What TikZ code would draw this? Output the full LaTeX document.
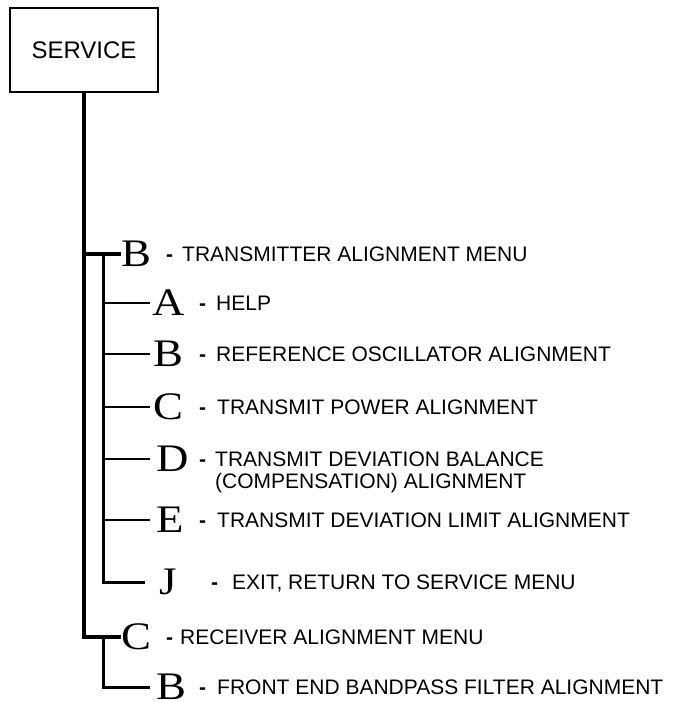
\documentclass[tikz,border=0pt]{standalone}
\usepackage{fontspec}
\setmainfont{Liberation Sans}
\newfontfamily\letterfam{Liberation Serif}
\usepackage{graphicx}
\newcommand{\wideletter}[1]{\scalebox{1.15}[1]{#1}}
\begin{document}
\begin{tikzpicture}[x=1pt,y=-1pt,
  box/.style={draw,line width=2.5pt,minimum width=148pt,minimum height=84pt,inner sep=0pt,font=\fontsize{24}{26}\selectfont},
  trunk/.style={line width=4pt},
  subtrunk/.style={line width=3pt},
  twig/.style={line width=2.6pt},
  letter/.style={inner sep=0pt,anchor=west,font=\letterfam\fontsize{39}{41}\selectfont,text height=25.8pt,text depth=0pt},
  dashlbl/.style={inner sep=0pt,anchor=west,font=\bfseries\fontsize{21}{22}\selectfont,text height=15pt,text depth=0pt},
  lbl/.style={inner sep=0pt,anchor=west,font=\fontsize{21}{22}\selectfont,text height=15pt,text depth=0pt}]
\useasboundingbox (0,0) rectangle (674,702);

\node[box] (svc) at (84,50) {SERVICE};

% transmitter branch
\node[letter] (Btx) at (121,254) {\wideletter{B}};
\node[dashlbl] (dBtx) at (166,254) {-};
\node[lbl] (tBtx) at (182,254) {TRANSMITTER ALIGNMENT MENU};

\node[letter] (A) at (152,303) {\wideletter{A}};
\node[dashlbl] (dA) at (199,303) {-};
\node[lbl] (tA) at (216,303) {HELP};

\node[letter] (Bref) at (153,354) {\wideletter{B}};
\node[dashlbl] (dBref) at (199,354) {-};
\node[lbl] (tBref) at (216,354) {REFERENCE OSCILLATOR ALIGNMENT};

\node[letter] (Ctx) at (153,407) {\wideletter{C}};
\node[dashlbl] (dCtx) at (199,407) {-};
\node[lbl] (tCtx) at (217,407) {TRANSMIT POWER ALIGNMENT};

\node[letter] (D) at (156,459) {\wideletter{D}};
\node[dashlbl] (dD) at (199,459) {-};
\node[lbl] (tD) at (215,459) {TRANSMIT DEVIATION BALANCE};
\node[lbl] (tD2) at (215,481) {(COMPENSATION) ALIGNMENT};

\node[letter] (E) at (156,520) {\wideletter{E}};
\node[dashlbl] (dE) at (199,520) {-};
\node[lbl] (tE) at (217,520) {TRANSMIT DEVIATION LIMIT ALIGNMENT};

\node[letter] (J) at (159,582) {\wideletter{J}};
\node[dashlbl] (dJ) at (211,582) {-};
\node[lbl] (tJ) at (232,582) {EXIT, RETURN TO SERVICE MENU};

% receiver branch
\node[letter] (Crx) at (121,637) {\wideletter{C}};
\node[dashlbl] (dCrx) at (166,637) {-};
\node[lbl] (tCrx) at (180,637) {RECEIVER ALIGNMENT MENU};

\node[letter] (Bfe) at (156,687) {\wideletter{B}};
\node[dashlbl] (dBfe) at (199,687) {-};
\node[lbl] (tBfe) at (217,687) {FRONT END BANDPASS FILTER ALIGNMENT};

\coordinate (s1) at (103,254);
\coordinate (s2) at (103,637);

% connectors
\draw[trunk] (svc.south) |- (Crx.west);
\draw[trunk] (svc.south |- Btx.west) -- (Btx.west);
\draw[subtrunk,shorten >=14pt] (s1) |- (J.west);
\draw[twig,shorten >=2pt] (s1 |- A.west) -- (A.west);
\draw[twig,shorten >=3pt] (s1 |- Bref.west) -- (Bref.west);
\draw[twig,shorten >=3pt] (s1 |- Ctx.west) -- (Ctx.west);
\draw[twig,shorten >=6pt] (s1 |- D.west) -- (D.west);
\draw[twig,shorten >=6pt] (s1 |- E.west) -- (E.west);
\draw[subtrunk,shorten >=6pt] (s2) |- (Bfe.west);
\end{tikzpicture}
\end{document}
